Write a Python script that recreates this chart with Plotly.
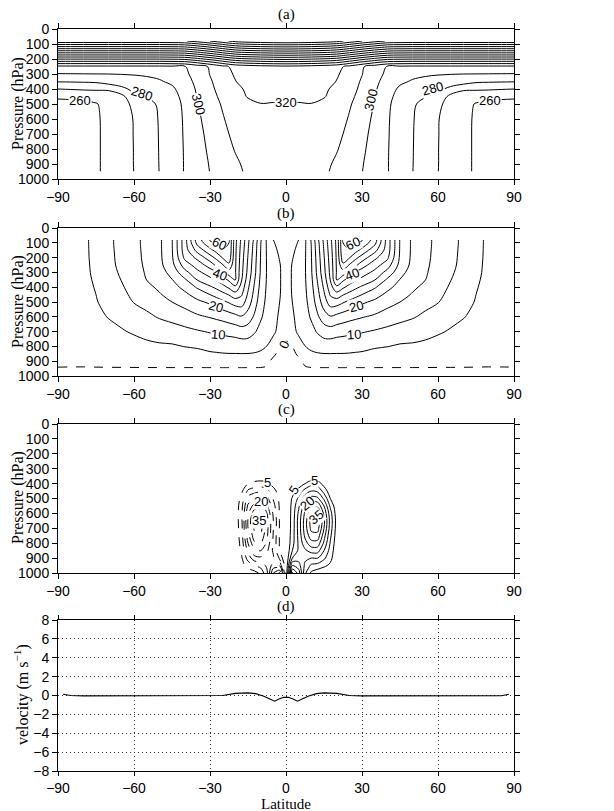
import numpy as np
import plotly.graph_objects as go

# ---------------- Panel (a): potential temperature (K) ----------------
lat_a_half = [0, 5, 10, 15, 20, 25, 30, 35, 40, 45, 50, 55, 60, 65, 70, 75, 80, 85, 90]
p_a = [80, 100, 125, 150, 175, 200, 225, 250, 300, 350, 400, 450, 500, 600, 700, 800, 900, 950]
theta_half = [
    [449, 448.5, 447.5, 446, 443.5, 437, 430, 424, 419, 418, 417.5, 417.5, 417.5, 417.5, 417.5, 417.5, 417.5, 417.5, 417.5],
    [434, 433.5, 432.5, 431, 428.5, 422, 415, 409, 404, 403, 402.5, 402.5, 402.5, 402.5, 402.5, 402.5, 402.5, 402.5, 402.5],
    [416, 415.5, 414.5, 413, 410.5, 404, 397, 391, 386, 385, 384.5, 384.5, 384.5, 384.5, 384.5, 384.5, 384.5, 384.5, 384.5],
    [398, 397.5, 396.5, 395, 392.5, 386, 379, 373, 368, 367, 366.5, 366.5, 366.5, 366.5, 366.5, 366.5, 366.5, 366.5, 366.5],
    [380, 379.5, 378.5, 377, 374.5, 368, 361, 355, 350, 349, 348.5, 348.5, 348.5, 348.5, 348.5, 348.5, 348.5, 348.5, 348.5],
    [362, 361.5, 360.5, 359, 356.5, 350, 343, 337, 332, 331, 330.5, 330.5, 330.5, 330.5, 330.5, 330.5, 330.5, 330.5, 330.5],
    [345, 344.5, 343.5, 342, 339.5, 333, 326, 320, 315, 314, 313.5, 313.5, 313.5, 313.5, 313.5, 313.5, 313.5, 313.5, 313.5],
    [328, 327.5, 326.5, 325, 323, 317.5, 311.2, 305, 299.3, 298.5, 298, 298, 298, 298, 298, 298, 298, 298, 298],
    [326, 325.5, 324.5, 323, 321.2, 315.5, 310.3, 304, 298, 294, 292, 291, 290.5, 290.2, 290, 289.9, 289.8, 289.7, 289.6],
    [324.5, 324, 323, 322, 319.8, 314.5, 309, 302.5, 296, 291.5, 289.2, 288, 287, 286, 284.5, 281.5, 281, 280.7, 280.5],
    [323.5, 323, 322, 321, 318.5, 313.5, 308, 301.3, 294, 288.5, 285.5, 284.5, 282.8, 277, 272, 271.5, 271, 270.5, 270],
    [322, 321.5, 321, 320.4, 317.5, 312.3, 306.8, 300.4, 292.5, 287, 283, 280.5, 277.5, 267, 263, 263, 263.5, 262.5, 262],
    [319.5, 319.6, 319.9, 318.5, 316.5, 311, 305.5, 299.6, 291.6, 286, 281.3, 277, 272, 266.5, 262.7, 259.5, 257.5, 256.5, 256],
    [318, 317.8, 316.5, 316.2, 314.5, 309.2, 304, 298.2, 291, 285.5, 280.6, 275.5, 270.4, 266.2, 262.5, 258.8, 256.5, 255.5, 255],
    [317, 316.8, 315, 314.7, 312.5, 307.5, 302.8, 297, 290.8, 285.3, 280.4, 275.3, 270.3, 266.1, 262.5, 258.7, 256.3, 255.3, 254.8],
    [316.5, 316.2, 314.5, 313.5, 310.6, 306, 301.7, 296.2, 290.6, 285.2, 280.3, 275.2, 270.2, 266, 262.5, 258.7, 256.2, 255.2, 254.7],
    [316, 315.6, 314, 312.2, 308.5, 304.5, 300.6, 295.6, 290.5, 285.1, 280.2, 275.1, 270.2, 266, 262.5, 258.7, 256.2, 255.2, 254.7],
    [315.5, 315.2, 313.5, 311.5, 307.8, 304, 300.2, 295.3, 290.5, 285, 280.1, 275, 270.1, 266, 262.5, 258.7, 256.2, 255.2, 254.7],
]
labels_a = [("260", -81.5, 478, 0), ("280", -57, 432, 18), ("300", -34.6, 505, 76), ("320", 0, 490, 0),
            ("300", 33.6, 470, -76), ("280", 58, 400, -15), ("260", 80.5, 478, 0)]

# ---------------- Panel (b): zonal wind (m/s) ----------------
lat_b_half = [0, 2.5, 5, 7.5, 10, 12.5, 15, 17.5, 20, 22.5, 25, 27.5, 30, 35, 40, 45, 50, 55, 60, 65, 70, 75, 80, 85, 90]
p_b = [80, 100, 150, 200, 250, 300, 350, 400, 450, 500, 600, 700, 800, 850, 900, 950]
u_cols_half = [
    [2, 2.5, 3, 3.2, 3.3, 3.4, 3.4, 3.4, 3.4, 3.3, 2.8, 1.5, -0.8, -1.5, -2.5, -3.5],
    [3.5, 3.8, 4.3, 4.8, 5.2, 5.3, 5.3, 5.3, 5.2, 5, 4.3, 3.3, 0, -0.8, -1.8, -2.8],
    [5, 5.3, 6, 6.5, 7, 7.2, 7.2, 7.2, 7.1, 7, 6.6, 6, 2.5, 0.6, -0.8, -1.8],
    [9.2, 9.3, 9.4, 9.5, 9.6, 9.6, 9.5, 9.3, 9.1, 8.9, 8.2, 7, 4.9, 3.3, 0.7, -0.4],
    [15.5, 15.2, 15, 14.8, 14.6, 14.5, 14, 13.5, 12.8, 12, 10.6, 8.5, 6, 4.3, 1.8, -0.3],
    [24, 23.4, 22.8, 22.3, 21.9, 21.5, 20.5, 19.5, 18.5, 17.5, 14.3, 10.5, 6.8, 4.7, 2.1, -0.3],
    [31.2, 30.9, 30.3, 29.7, 29.1, 28.6, 27.3, 25.8, 24.3, 22.5, 17.8, 12.2, 7.3, 4.9, 2.2, -0.3],
    [38.7, 38.4, 37.8, 37.2, 36.7, 36.2, 35.2, 32.9, 30.5, 27.5, 19.6, 12.6, 7.3, 4.95, 2.3, -0.3],
    [46.5, 46.3, 46, 45.8, 45.6, 45.4, 45.1, 38.8, 33, 27.3, 18.5, 11.9, 7, 4.9, 2.3, -0.3],
    [60, 60, 59.5, 58, 53.9, 47.9, 40.9, 35.85, 30.3, 25.5, 17.5, 11.5, 6.9, 4.9, 2.3, -0.3],
    [66, 63.5, 59.4, 55.4, 49.6, 43.7, 37.8, 33.3, 28.4, 23.9, 16.6, 11.1, 6.8, 4.8, 2.3, -0.3],
    [62.5, 61, 56.7, 51.25, 46, 39.5, 35.7, 31, 26.7, 22.3, 15.9, 10.8, 6.6, 4.6, 2.2, -0.3],
    [60.5, 58.9, 53.5, 47.9, 42.2, 37.5, 33.6, 29.2, 25, 20.8, 15.3, 10.35, 6.4, 4.4, 2.2, -0.3],
    [52.5, 51.5, 46.75, 41.25, 37.2, 33.7, 30.2, 25.6, 21.9, 19, 14.2, 9.5, 5.55, 3.6, 2.1, -0.3],
    [37.8, 37.8, 37.5, 36, 32.4, 28.3, 24.2, 21.3, 18.9, 16.8, 12.6, 8.7, 5.1, 3.6, 2, -0.3],
    [24.7, 24.7, 24.6, 24.3, 23.5, 21.7, 19.8, 18.2, 16.6, 15, 11.4, 7.9, 4.4, 3.3, 2, -0.3],
    [19, 19, 19, 18.9, 18.6, 17.8, 16.9, 15.8, 14.6, 13.2, 10.4, 7.2, 4.3, 3.2, 1.9, -0.3],
    [16.2, 16.2, 16.1, 16, 15.8, 15.5, 15.05, 13.9, 12.7, 11.5, 9, 6.3, 4, 2.9, 1.8, -0.3],
    [13.8, 13.8, 13.7, 13.6, 13.4, 13, 12.5, 12, 11.2, 10.2, 7.9, 5.5, 3.3, 2.6, 1.6, -0.3],
    [11.4, 11.4, 11.3, 11.2, 11, 10.6, 10.1, 9.4, 8.6, 7.8, 6.2, 4.6, 2.9, 2.2, 1.5, -0.3],
    [9.1, 9.1, 9, 8.9, 8.8, 8.5, 8.1, 7.6, 7.1, 6.6, 5.2, 3.7, 2.5, 2, 1.4, -0.3],
    [6.4, 6.4, 6.3, 6.2, 6.1, 5.9, 5.6, 5.3, 5, 4.7, 4, 3, 2.1, 1.7, 1.2, -0.3],
    [4, 4, 4, 4, 3.9, 3.9, 3.8, 3.6, 3.5, 3.3, 2.9, 2.3, 1.7, 1.4, 1, -0.3],
    [2.4, 2.4, 2.4, 2.4, 2.3, 2.3, 2.2, 2.1, 2, 1.9, 1.7, 1.4, 1.1, 0.9, 0.7, -0.2],
    [1, 1, 1, 1, 1, 1, 1, 0.9, 0.9, 0.9, 0.8, 0.7, 0.6, 0.5, 0.4, -0.1],
]
labels_b = [("60", -26.5, 108, 25), ("40", -26, 312, 20), ("20", -27.6, 527, 14), ("10", -27, 717, 4),
            ("60", 26.5, 108, -25), ("40", 26, 312, -20), ("20", 27.6, 527, -14), ("10", 27, 717, -4),
            ("0", -0.6, 790, -65)]

# ---------------- Panel (c): mass streamfunction ----------------
lat_c = [-30, -22.5, -20, -17.5, -15, -12.5, -10, -7.5, -5, -2.5, 0, 2.5, 5, 7.5, 10, 12.5, 15, 17.5, 20, 22.5, 30]
p_c = [300, 350, 400, 450, 500, 550, 600, 650, 700, 750, 800, 850, 900, 950, 1000]
psi_cols = [
    [0] * 15,
    [0] * 15,
    [0, 0, 0, -0.5, -1, -1.3, -1.5, -1.5, -1.5, -1.3, -1.1, -0.9, -0.7, -0.4, 0],
    [0, 0, -1.5, -4, -6.5, -8.5, -9, -9, -8.5, -8, -7, -6, -4.5, -3, -1],
    [0, -0.5, -5, -11, -17, -21, -24, -25.5, -25, -23, -20, -16.5, -12, -7, -2],
    [0, -1, -6.5, -13, -20, -27, -33, -37, -36, -33, -29, -24, -18, -10, -3],
    [0, -1.5, -7, -14, -21, -28, -34, -37.5, -37, -34, -30, -25, -19, -12, -6],
    [0, -1.5, -6, -11.5, -16.5, -21, -25, -27, -27, -26, -24, -21, -18, -16, -14],
    [0, -0.5, -3, -7, -9.5, -12, -14, -15, -15, -14.5, -14, -14, -16, -22, -30],
    [0, 0, -1, -2.5, -3.8, -4.3, -4.5, -4.6, -4.6, -4.5, -4.5, -5, -9, -20, -36],
    [0] * 15,
    [0, 0, 0.5, 3, 5.5, 6.5, 6.8, 7, 7, 7.5, 8, 10, 15, 25, 36],
    [0, 0, 2, 7, 11, 14, 16, 17, 17, 16.5, 16, 16, 18, 22, 28],
    [0, 0, 5, 12, 18, 23, 26, 27.5, 27.5, 26, 23, 19, 16, 14, 11],
    [0, 0.5, 8, 15, 22, 29, 34, 37, 36.5, 33, 28, 22, 15, 9, 4],
    [0, 0.5, 7.5, 14, 21, 29, 35, 38.5, 37, 33, 28, 22, 15, 8, 2],
    [0, 0, 3, 8, 14, 20, 24, 26, 25, 22, 19, 15, 11, 6, 1],
    [0, 0, 0, 2, 5, 9, 12, 13, 12.5, 11, 9.5, 8, 6.5, 4, 0.5],
    [0, 0, 0, 0, 0.5, 1.5, 2.5, 3.2, 3, 2.5, 2, 1.5, 1, 0.5, 0],
    [0] * 15,
    [0] * 15,
]
labels_c = [("5", -7.2, 394, 0), ("20", -10, 521, 0), ("35", -10.6, 649, 0),
            ("5", 2.8, 443, -55), ("5", 11.1, 380, 0), ("20", 8.3, 532, -40), ("35", 11.7, 626, -40)]

# ---------------- Panel (d): surface velocity ----------------
lat_d = [-88, -85, -80, -70, -60, -50, -40, -30, -25, -20, -15, -12, -9, -7, -4.5, -3, -1, 0,
         1, 3, 4.5, 7, 9, 12, 15, 20, 25, 30, 40, 50, 60, 70, 80, 85, 88]
vel_d = [0.14, 0.0, -0.04, -0.04, -0.04, -0.04, -0.04, -0.04, 0.0, 0.22, 0.28, 0.2, -0.05, -0.3, -0.6, -0.4, -0.18, -0.2,
         -0.18, -0.4, -0.6, -0.3, -0.05, 0.2, 0.28, 0.22, 0.0, -0.04, -0.04, -0.04, -0.04, -0.05, -0.08, -0.02, 0.14]

lat_ticks = [-90, -60, -30, 0, 30, 60, 90]
p_ticks = list(range(0, 1001, 100))
vel_ticks = [-8, -6, -4, -2, 0, 2, 4, 6, 8]

# ---------------- build full (mirrored) fields ----------------
lat_a = [-v for v in lat_a_half[::-1]][:-1] + lat_a_half
th = np.array(theta_half)
theta_full = np.hstack([th[:, ::-1][:, :-1], th])

lat_b = [-v for v in lat_b_half[::-1]][:-1] + lat_b_half
ub = np.array(u_cols_half).T
u_full = np.hstack([ub[:, ::-1][:, :-1], ub])

psi_full = np.array(psi_cols).T

BLACK = [[0, "black"], [1, "black"]]
SANS = "Liberation Sans, Arial, Helvetica, sans-serif"
SERIF = "Liberation Serif, Times New Roman, serif"

fig = go.Figure()


def contour(x, y, z, start, end, size, xa, ya, dash="solid"):
    return go.Contour(
        x=x, y=y, z=z, xaxis=xa, yaxis=ya,
        contours=dict(coloring="lines", start=start, end=end, size=size, showlabels=False),
        line=dict(width=1, dash=dash), colorscale=BLACK, showscale=False,
        hoverinfo="skip",
    )


fig.add_trace(contour(lat_a, p_a, theta_full, 250, 460, 10, "x", "y"))
fig.add_trace(contour(lat_b, p_b, u_full, 5, 65, 5, "x2", "y2"))
fig.add_trace(contour(lat_b, p_b, u_full, 0, 0, 5, "x2", "y2", dash="dash"))
fig.add_trace(contour(lat_c, p_c, psi_full, 5, 40, 5, "x3", "y3"))
fig.add_trace(contour(lat_c, p_c, psi_full, -40, -5, 5, "x3", "y3", dash="dash"))
fig.add_trace(go.Scatter(x=lat_d, y=vel_d, mode="lines", line=dict(color="black", width=1.1),
                         xaxis="x4", yaxis="y4", hoverinfo="skip"))

H = 811.0
W_PLOT = 456.0
def dom(top, bottom):
    return [1 - bottom / H, 1 - top / H]

tickfont = dict(family=SANS, size=14, color="black")
titlefont = dict(family=SERIF, size=16, color="black")

common_x = dict(range=[-90, 90], tickvals=lat_ticks, ticks="outside", ticklen=5, showline=True,
                linecolor="black", linewidth=1, mirror="ticks", zeroline=False, showgrid=False,
                tickfont=tickfont, tickcolor="black", automargin=False)
common_p = dict(range=[1000, 0], tickvals=p_ticks, ticks="outside", ticklen=5, showline=True,
                linecolor="black", linewidth=1, mirror="ticks", zeroline=False, showgrid=False,
                tickfont=tickfont, tickcolor="black", automargin=False)

layout = dict(
    width=614, height=811, margin=dict(l=58, r=100, t=0, b=0, autoexpand=False),
    paper_bgcolor="white", plot_bgcolor="white", showlegend=False,
    xaxis=dict(common_x, anchor="y", domain=[0, 1]),
    yaxis=dict(common_p, anchor="x", domain=dom(29, 179)),
    xaxis2=dict(common_x, anchor="y2", domain=[0, 1]),
    yaxis2=dict(common_p, anchor="x2", domain=dom(228, 376)),
    xaxis3=dict(common_x, anchor="y3", domain=[0, 1]),
    yaxis3=dict(common_p, anchor="x3", domain=dom(424, 573)),
    xaxis4=dict(common_x, anchor="y4", domain=[0, 1], showgrid=True, gridcolor="#333333",
                griddash="1px,3px", gridwidth=1, ticklen=4),
    yaxis4=dict(range=[-8, 8], tickvals=vel_ticks, ticks="outside", ticklen=5, showline=True,
                linecolor="black", linewidth=1, mirror="ticks", zeroline=False, showgrid=True,
                gridcolor="#333333", griddash="1px,3px", gridwidth=1, tickfont=tickfont,
                tickcolor="black", automargin=False, anchor="x4", domain=dom(620, 771)),
)
fig.update_layout(**layout)

ann = []
for txt, ypx in [("(a)", 14), ("(b)", 214), ("(c)", 409), ("(d)", 606)]:
    ann.append(dict(text=txt, x=0.5, y=1 - ypx / H, xref="paper", yref="paper", showarrow=False,
                    font=dict(family=SERIF, size=15, color="black"), yanchor="middle"))
ann.append(dict(text="Latitude", x=0.5, y=1 - 804 / H, xref="paper", yref="paper", showarrow=False,
                font=dict(family=SERIF, size=15, color="black"), yanchor="middle"))
for txt, xpx, ypx in [("Pressure (hPa)", 18, 104), ("Pressure (hPa)", 18, 302), ("Pressure (hPa)", 18, 498),
                      ("velocity (m s<sup>\u22121</sup>)", 21, 695)]:
    ann.append(dict(text=txt, x=(xpx - 58) / W_PLOT, y=1 - ypx / H, xref="paper", yref="paper",
                    showarrow=False, font=titlefont, textangle=-90, xanchor="center", yanchor="middle"))

labfont = dict(family=SANS, size=13, color="black")
for labels, xr, yr in [(labels_a, "x", "y"), (labels_b, "x2", "y2"), (labels_c, "x3", "y3")]:
    for txt, lx, ly, ang in labels:
        ann.append(dict(text=txt, x=lx, y=ly, xref=xr, yref=yr, showarrow=False, font=labfont,
                        bgcolor="white", borderpad=0, textangle=ang))
fig.update_layout(annotations=ann)

fig.write_html("out.html", config={"displayModeBar": False},
               post_script="document.body.style.margin='0px';")
